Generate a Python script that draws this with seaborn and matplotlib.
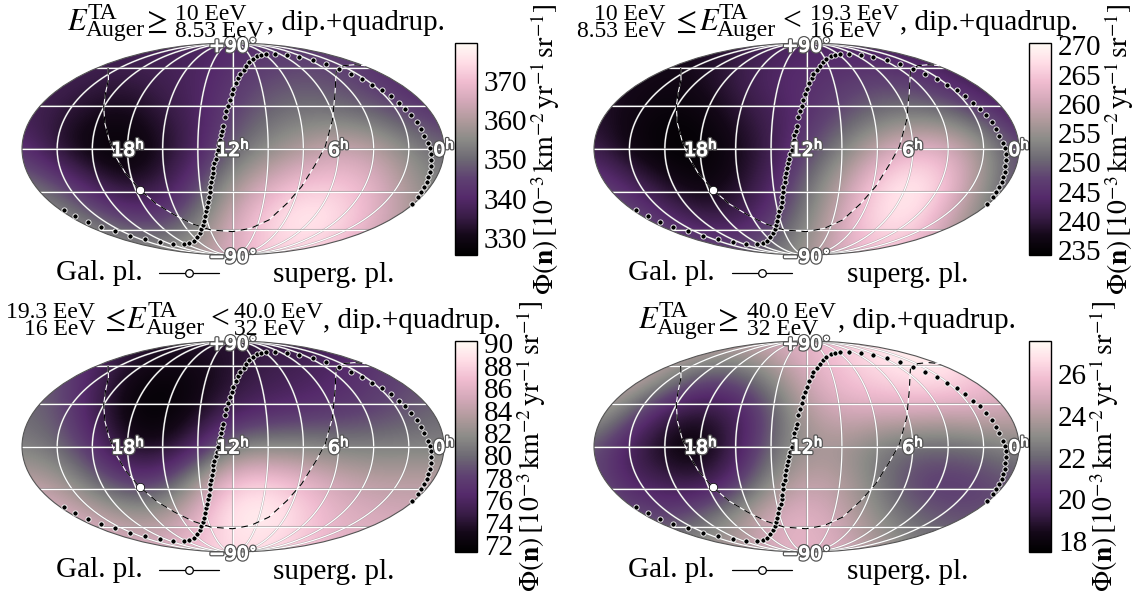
import numpy as np
import seaborn as sns
import matplotlib
matplotlib.use("Agg")
import matplotlib.pyplot as plt
import matplotlib.patheffects as pe
from matplotlib.patches import Ellipse

sns.set_theme(style="white")
plt.rcParams["font.family"] = ["Liberation Serif", "DejaVu Serif"]
plt.rcParams["mathtext.fontset"] = "stix"

W, H = 1137, 598

# map read-off scale: x 60..1222 (0h on the right edge), y 130..765
grid_x = [60, 157, 254, 351, 448, 545, 641, 738, 835, 932, 1028, 1125, 1222]
grid_y = [130, 236, 342, 447, 553, 659, 765]

flux_1 = [
    [338, 338, 338, 338, 338, 338, 340, 342, 343, 343, 342, 341, 341],
    [338, 337, 336, 335, 337, 339, 343, 346, 347, 346, 343, 340, 339],
    [337, 335, 331, 330, 334, 339, 345, 350, 352, 351, 349, 345, 342],
    [342, 332, 327, 326, 331, 338, 349, 355, 360, 364, 362, 355, 350],
    [352, 347, 337, 331, 335, 345, 358, 366, 371, 372, 368, 359, 352],
    [358, 356, 351, 345, 344, 352, 365, 374, 379, 376, 368, 360, 356],
    [362, 361, 360, 358, 357, 360, 367, 372, 372, 368, 362, 358, 356],
]
flux_2 = [
    [238, 238, 238, 238, 240, 242, 243, 243, 242, 241, 240, 239, 239],
    [239, 238, 237, 238, 241, 244, 245, 246, 247, 246, 243, 240, 239],
    [239, 237, 235.5, 236, 239, 242, 245, 248, 251, 252, 251, 247, 242],
    [241, 236, 234.5, 234.5, 237, 241, 247, 253, 259, 263, 262, 256, 248],
    [248, 243, 238, 235.5, 238, 243, 251, 258, 266, 270, 265, 255, 247],
    [252, 249, 245, 241, 241, 246, 253, 261, 268, 268, 260, 252, 248],
    [254, 253, 252, 250, 249, 252, 256, 262, 264, 262, 256, 252, 250],
]
flux_3 = [
    [78, 78, 77, 75, 74, 74, 74, 75, 75, 76, 77, 78, 78],
    [80, 79, 76, 73, 72, 72.5, 74, 75, 75.5, 76.5, 77.5, 78.5, 79],
    [80, 79, 75.5, 72, 71.5, 73, 75.5, 76.5, 77, 77.5, 78, 79, 80],
    [81, 80, 77, 73.5, 73, 76, 81, 81.5, 81.5, 81, 81, 81, 81],
    [84, 83, 80, 77.5, 78, 83, 87.5, 88, 86.5, 85, 84, 84, 84],
    [87, 86, 84.5, 83, 83, 86, 89.5, 90, 88, 86, 85.5, 85, 85],
    [87, 87, 87, 86, 86, 87, 88.5, 88, 87, 86, 86, 86, 86],
]
flux_4 = [
    [25, 25, 25, 25, 24.5, 25, 25.5, 26, 27, 27.5, 27, 26, 26],
    [25, 25, 23.5, 21.5, 21.5, 23, 25, 26, 26.5, 27, 27, 26, 25.5],
    [24, 22, 19.5, 18.8, 19.5, 21.5, 24, 25, 25, 25, 24.8, 25, 24.5],
    [21.5, 19.5, 18, 17.6, 19.5, 22, 23.5, 23.5, 22.5, 22, 22, 22.3, 23],
    [21.5, 20, 19.5, 19, 20.5, 23, 24.5, 24, 22.5, 21, 20.7, 21, 21.5],
    [22, 21.5, 21, 22, 23.5, 25, 25.5, 24.5, 23, 22, 21.5, 21.5, 21.5],
    [23, 23, 23, 23.5, 24, 25, 25.5, 25, 24, 23, 22.5, 22, 22],
]

ranges = [(325.6, 379.7), (234.2, 270.4), (71.4, 90.2), (17.46, 27.6)]
ticks_1 = [330, 340, 350, 360, 370]
ticks_2 = [235, 240, 245, 250, 255, 260, 265, 270]
ticks_3 = [72, 74, 76, 78, 80, 82, 84, 86, 88, 90]
ticks_4 = [18, 20, 22, 24, 26]

# title fragments: text, x, ha, baseline, size
title_1 = [(r"$E$", 185, "left", 92, 22), ("TA", 240, "left", 58, 17), ("Auger", 235, "left", 108, 17),
           (r"$\geq$", 390, "left", 92, 22), ("10 EeV", 482, "left", 60, 17), ("8.53 EeV", 482, "left", 112, 17),
           (", dip.+quadrup.", 735, "left", 92, 21)]
title_2 = [("10 EeV", 256, "right", 60, 17), ("8.53 EeV", 256, "right", 112, 17), (r"$\leq$", 270, "left", 92, 22),
           (r"$E$", 346, "left", 92, 22), ("TA", 401, "left", 58, 17), ("Auger", 396, "left", 108, 17),
           ("<", 576, "left", 92, 24), ("19.3 EeV", 651, "left", 60, 17), ("16 EeV", 651, "left", 112, 17),
           (", dip.+quadrup.", 896, "left", 92, 21)]
title_3 = [("19.3 EeV", 262, "right", 60, 17), ("16 EeV", 262, "right", 112, 17), (r"$\leq$", 274, "left", 92, 22),
           (r"$E$", 345, "left", 92, 22), ("TA", 405, "left", 58, 17), ("Auger", 400, "left", 108, 17),
           ("<", 580, "left", 92, 24), ("40.0 EeV", 645, "left", 60, 17), ("32 EeV", 645, "left", 112, 17),
           (", dip.+quadrup.", 890, "left", 92, 21)]
title_4 = [(r"$E$", 181, "left", 92, 22), ("TA", 236, "left", 58, 17), ("Auger", 231, "left", 108, 17),
           (r"$\geq$", 386, "left", 92, 22), ("40.0 EeV", 478, "left", 60, 17), ("32 EeV", 478, "left", 112, 17),
           (", dip.+quadrup.", 728, "left", 92, 21)]

cbar_label = r"$\Phi(\mathbf{n})\,[10^{-3}\,\mathrm{km}^{-2}\,\mathrm{yr}^{-1}\,\mathrm{sr}^{-1}]$"

# supergalactic plane dots
sg_x = [175, 207, 241, 277, 317, 358, 400, 440, 476, 505, 521, 533, 541, 549, 554, 558, 560, 564, 567,
        570, 573, 575, 577, 578, 581, 583, 585, 587, 590, 593, 597, 600, 603, 606, 608, 611, 614, 618,
        622, 628, 632, 637, 641, 648, 655, 660, 670, 677, 685, 695, 707, 718, 733, 757, 790, 822, 860,
        896, 932, 965, 997, 1024, 1052, 1075, 1097, 1115, 1132, 1147, 1158, 1167, 1177, 1183, 1187, 1186,
        1185, 1183, 1178, 1175, 1168, 1160, 1150, 1135]
sg_y = [630, 648, 665, 681, 694, 708, 717, 726, 731, 732, 730, 722, 712, 700, 688, 675, 662, 648, 634,
        620, 606, 592, 576, 561, 547, 532, 518, 504, 490, 477, 463, 449, 435, 421, 407, 393, 380, 352,
        335, 318, 300, 283, 268, 250, 235, 222, 210, 198, 187, 177, 170, 167, 162, 162, 166, 172, 182,
        193, 208, 222, 238, 255, 272, 290, 310, 327, 347, 367, 388, 408, 430, 445, 462, 480,
        497, 515, 530, 545, 560, 575, 590, 612]

# galactic plane
gal_x = [297, 298, 290, 285, 288, 300, 318, 345, 385, 430, 480, 530, 580, 640, 690, 740, 790, 830,
         870, 895, 915, 922, 925, 945, 975, 1005]
gal_y = [205, 240, 280, 320, 370, 420, 470, 520, 570, 612, 645, 672, 690, 695, 685, 660, 610, 560,
         490, 440, 360, 280, 215, 198, 195, 198]
gc_x = [385]
gc_y = [570]

hour_x = [352, 641, 932, 1222]
hour_lab = ["18", "12", "6", "0"]

colors = ["#000000", "#140818", "#3a1d48", "#552a6b", "#5f4272", "#6e6a74",
          "#8b8b87", "#b09a9c", "#d3a8b8", "#f0bcd0", "#ffdde6", "#fffbf5"]
cmap = sns.blend_palette(colors, as_cmap=True)

fig = plt.figure(figsize=(W / 100, H / 100), dpi=100)
fig.patch.set_facecolor("white")


def axpos(x0, x1, y0, y1):
    return [x0 / W, 1 - y1 / H, (x1 - x0) / W, (y1 - y0) / H]


def draw_panel(flux, vr, ticks, title, box, cx, lx, ly):
    x0, x1, y0, y1 = box
    ax = fig.add_axes(axpos(x0, x1, y0, y1))
    dx = (grid_x[1] - grid_x[0]) / 2
    dy = (grid_y[1] - grid_y[0]) / 2
    im = ax.imshow(np.array(flux), cmap=cmap, vmin=vr[0], vmax=vr[1], aspect="auto", interpolation="bicubic",
                   extent=(grid_x[0] - dx, grid_x[-1] + dx, grid_y[-1] + dy, grid_y[0] - dy))
    ax.set_xlim(grid_x[0], grid_x[-1])
    ax.set_ylim(grid_y[-1], grid_y[0])
    im.set_clip_path(Ellipse((0.5, 0.5), 1, 1, transform=ax.transAxes))
    ax.axis("off")

    geo = fig.add_axes(axpos(x0, x1, y0, y1), projection="mollweide")
    geo.set_aspect("auto")
    geo.patch.set_alpha(0)
    geo.set_longitude_grid(30)
    geo.set_latitude_grid(30)
    geo.set_longitude_grid_ends(90)
    geo.set_xticklabels([])
    geo.set_yticklabels([])
    geo.grid(True, color="white", lw=0.9)
    for gl in geo.get_xgridlines() + geo.get_ygridlines():
        gl.set_path_effects([pe.withStroke(linewidth=1.5, foreground="#8a8a8a", alpha=0.6)])
    geo.spines["geo"].set_color("#555555")
    geo.spines["geo"].set_linewidth(0.8)

    top = fig.add_axes(axpos(x0, x1, y0, y1))
    top.patch.set_alpha(0)
    sns.lineplot(x=gal_x, y=gal_y, sort=False, estimator=None, color="white", lw=0.8, ax=top)
    sns.lineplot(x=gal_x, y=gal_y, sort=False, estimator=None, color="black", lw=0.8,
                 linestyle=(0, (6, 5)), ax=top)
    sns.scatterplot(x=sg_x, y=sg_y, color="black", s=14, edgecolor="white", linewidth=0.6, ax=top, zorder=4)
    sns.scatterplot(x=gc_x, y=gc_y, color="white", s=36, edgecolor="black", linewidth=0.5, ax=top, zorder=5)
    top.set_xlim(grid_x[0], grid_x[-1])
    top.set_ylim(grid_y[-1], grid_y[0])
    top.axis("off")

    halo = [pe.withStroke(linewidth=2.6, foreground="#555555"), pe.withStroke(linewidth=0.8, foreground="white")]
    for hx, lab in zip(hour_x, hour_lab):
        top.text(hx, 447, r"$\mathdefault{" + lab + r"^{\mathrm{h}}}$", color="white", fontsize=13.5,
                 family="DejaVu Sans", math_fontfamily="dejavusans", ha="center", va="center",
                 path_effects=halo, zorder=6, clip_on=False)
    for py, lab in zip([140, 772], [r"+90$^{\circ}$", "\u221290$^{\\circ}$"]):
        top.text(641, py, lab, color="white", fontsize=13.5, family="DejaVu Sans", math_fontfamily="dejavusans",
                 ha="center", va="center", path_effects=halo, zorder=6, clip_on=False)

    for txt, tx, ha, ty, fs in title:
        top.text(tx, ty, txt, fontsize=fs, color="black", ha=ha, va="baseline", clip_on=False, zorder=7)

    # legend row under the map
    top.text(272, 820, "Gal. pl.", fontsize=21, color="black", ha="center", va="center", clip_on=False)
    top.text(917, 825, "superg. pl.", fontsize=21, color="black", ha="center", va="center", clip_on=False)
    top.plot([438, 602], [818, 818], color="black", lw=0.9, clip_on=False)
    top.plot([520], [818], "o", mfc="white", mec="black", mew=0.9, ms=5.5, clip_on=False)

    cax = fig.add_axes(axpos(cx, cx + 22, y0, y1))
    cb = fig.colorbar(im, cax=cax)
    cb.set_ticks(ticks)
    cb.outline.set_edgecolor("black")
    cb.outline.set_linewidth(1)
    cax.tick_params(axis="y", which="major", direction="in", length=15.5, width=1, color="black",
                    labelsize=21, pad=5, right=True, left=False, labelcolor="black")
    fig.text(lx / W, 1 - ly / H, cbar_label, rotation=90, fontsize=20, color="black", ha="center", va="center")


draw_panel(flux_1, ranges[0], ticks_1, title_1, (22, 444, 43, 255), 455, 545, 149)
draw_panel(flux_2, ranges[1], ticks_2, title_2, (594, 1019, 43, 255), 1029, 1119, 149)
draw_panel(flux_3, ranges[2], ticks_3, title_3, (22, 444, 341, 552), 455, 531, 446)
draw_panel(flux_4, ranges[3], ticks_4, title_4, (594, 1019, 341, 552), 1029, 1104, 446)

fig.savefig("out.png", dpi=100, facecolor="white")
